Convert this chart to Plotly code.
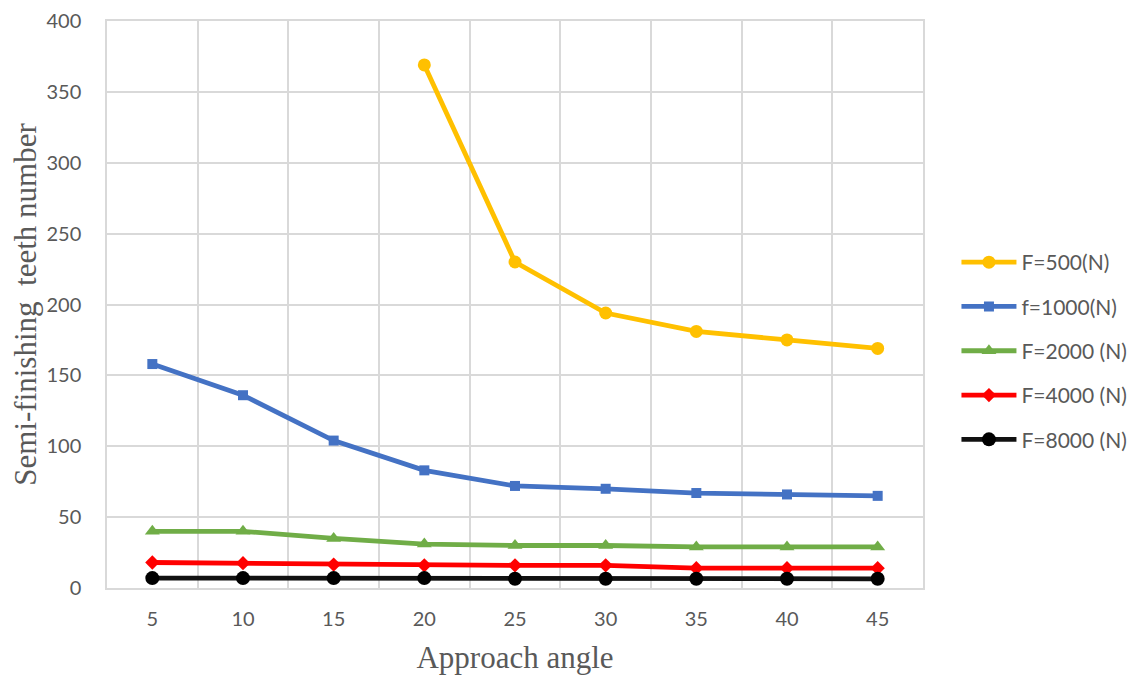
import plotly.graph_objects as go

angles = ["5", "10", "15", "20", "25", "30", "35", "40", "45"]
f500 = [None, None, None, 369, 230, 194, 181, 175, 169]
f1000 = [158, 136, 104, 83, 72, 70, 67, 66, 65]
f2000 = [40, 40, 35, 31, 30, 30, 29, 29, 29]
f4000 = [18, 17.5, 16.5, 16, 16, 16, 14, 14, 14]
f8000 = [7, 7, 7, 7, 6.5, 6.5, 6.5, 6.5, 6.5]

names = ["F=500(N)", "f=1000(N)", "F=2000 (N)", "F=4000 (N)", "F=8000 (N)"]
colors = ["#FFC000", "#4472C4", "#70AD47", "#FF0000", "#111111"]
symbols = ["circle", "square", "triangle-up", "diamond", "circle"]
msizes = [13, 10, 13, 11, 14]
series = [f500, f1000, f2000, f4000, f8000]

fig = go.Figure()
for i, (n, c, s, ms, ys) in enumerate(zip(names, colors, symbols, msizes, series)):
    fig.add_trace(go.Scatter(
        x=angles, y=ys, name=n, mode="lines+markers",
        line=dict(color=c, width=4.8),
        marker=dict(symbol=s, size=ms, color=c if i < 4 else "#000000"),
        legendgroup=str(i),
    ))

grid = "#D9D9D9"
tickfont = dict(family="Lato, Liberation Sans, sans-serif", size=20, color="#595959")
titlefont = dict(family="Liberation Serif, Times New Roman, serif", size=31, color="#595959")

# page body has an 8px margin; margins are offset so the plot lands where the reference has it
fig.update_layout(
    width=1140, height=677,
    margin=dict(l=99, r=225, t=13, b=97),
    paper_bgcolor="white", plot_bgcolor="white",
    showlegend=True,
    legend=dict(
        x=1.041, y=0.418, xanchor="left", yanchor="middle",
        font=dict(family="Lato, Liberation Sans, sans-serif", size=21, color="#595959"),
        itemwidth=55, tracegroupgap=14, traceorder="grouped",
        bgcolor="rgba(0,0,0,0)",
    ),
    xaxis=dict(
        type="category", tickson="boundaries", showgrid=True, gridcolor=grid, gridwidth=1.5,
        showline=True, linecolor=grid, linewidth=1.5, mirror=True, automargin=False,
        ticks="", tickfont=tickfont, ticklabelstandoff=12,
        title=dict(text="Approach angle", font=titlefont, standoff=18),
        range=[-0.5, 8.5],
    ),
    yaxis=dict(
        range=[0, 400], dtick=50, showgrid=True, gridcolor=grid, gridwidth=1.5,
        showline=True, linecolor=grid, linewidth=1.5, mirror=True, zeroline=False,
        automargin=False,
        ticks="", tickfont=tickfont, ticklabelstandoff=20,
        title=dict(text="Semi-finishing  teeth number", font=titlefont, standoff=14),
    ),
)

fig.write_html("out.html")
